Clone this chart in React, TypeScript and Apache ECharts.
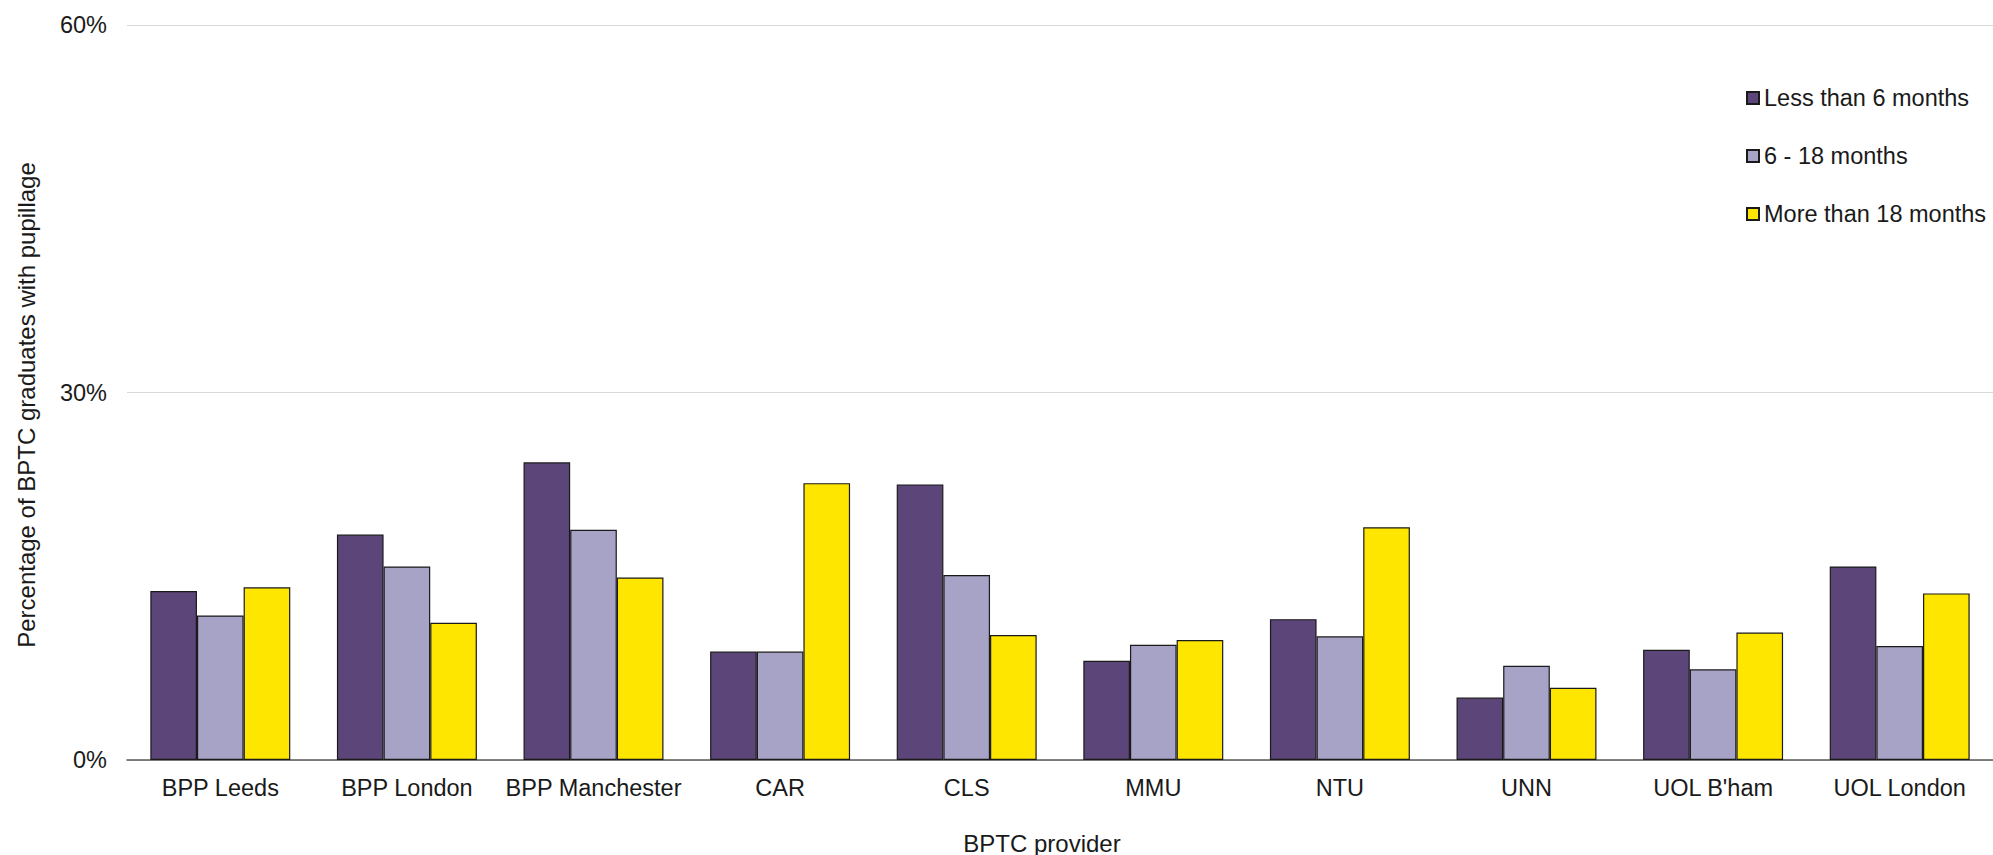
import React, { useEffect, useRef } from "react";
import * as echarts from "echarts";

const categories = [
  "BPP Leeds",
  "BPP London",
  "BPP Manchester",
  "CAR",
  "CLS",
  "MMU",
  "NTU",
  "UNN",
  "UOL B'ham",
  "UOL London",
];
const seriesNames = ["Less than 6 months", "6 - 18 months", "More than 18 months"];
const lessThan6 = [13.8, 18.4, 24.3, 8.85, 22.5, 8.1, 11.5, 5.1, 9.0, 15.8];
const sixTo18 = [11.8, 15.8, 18.8, 8.85, 15.1, 9.4, 10.1, 7.7, 7.4, 9.3];
const moreThan18 = [14.1, 11.2, 14.9, 22.6, 10.2, 9.8, 19.0, 5.9, 10.4, 13.6];
const yTicks = [0, 30, 60];
const colors = ["#5C4579", "#A7A3C6", "#FFE600"];

const FONT = "'Liberation Sans', Arial, Helvetica, sans-serif";

export default function App() {
  const ref = useRef<HTMLDivElement>(null);
  useEffect(() => {
    document.body.style.margin = "0";
    if (!ref.current) return;
    const chart = echarts.init(ref.current, undefined, { renderer: "svg" });
    const data = [lessThan6, sixTo18, moreThan18];
    chart.setOption({
      animation: false,
      textStyle: { fontFamily: FONT },
      grid: { left: 127, top: 25, width: 1883, height: 735, containLabel: false },
      legend: {
        orient: "vertical",
        left: 1741,
        top: 81,
        itemWidth: 12,
        itemHeight: 12,
        itemGap: 34,
        icon: "rect",
        textStyle: { fontSize: 23.5, color: "#1a1a1a", fontFamily: FONT, lineHeight: 24 },
        data: seriesNames,
      },
      xAxis: {
        type: "category",
        data: categories,
        axisLine: { show: true, lineStyle: { color: "#595959", width: 1.5 } },
        axisTick: { show: false },
        axisLabel: { fontSize: 23.5, color: "#1a1a1a", margin: 16, fontFamily: FONT, interval: 0 },
      },
      yAxis: {
        type: "value",
        min: yTicks[0],
        max: yTicks[yTicks.length - 1],
        interval: yTicks[1] - yTicks[0],
        axisLine: { show: false },
        axisTick: { show: false },
        splitLine: { lineStyle: { color: "#d9d9d9", width: 1 } },
        axisLabel: { fontSize: 23.5, color: "#1a1a1a", margin: 20, fontFamily: FONT, formatter: "{value}%" },
      },
      graphic: [
        {
          type: "text",
          x: 26,
          y: 405,
          rotation: Math.PI / 2,
          style: {
            text: "Percentage of BPTC graduates with pupillage",
            fontSize: 24,
            fontFamily: FONT,
            fill: "#1a1a1a",
            textAlign: "center",
            textVerticalAlign: "middle",
          },
        },
        {
          type: "text",
          x: 1042,
          y: 843,
          style: {
            text: "BPTC provider",
            fontSize: 24,
            fontFamily: FONT,
            fill: "#1a1a1a",
            textAlign: "center",
            textVerticalAlign: "middle",
          },
        },
      ],
      series: seriesNames.map((name, i) => ({
        name,
        type: "bar",
        data: data[i],
        barGap: "0%",
        barCategoryGap: "25%",
        itemStyle: { color: colors[i], borderColor: "#1a1a1a", borderWidth: 1.2 },
      })),
    });
    return () => chart.dispose();
  }, []);
  return <div ref={ref} style={{ width: 1993, height: 855 }} />;
}
